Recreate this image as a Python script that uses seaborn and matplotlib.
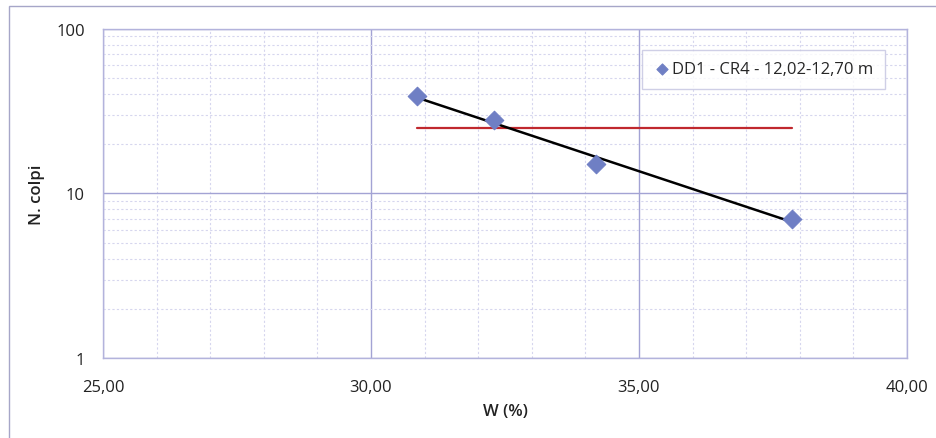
import numpy as np
import pandas as pd
import matplotlib.pyplot as plt
import matplotlib.ticker as mticker
from matplotlib.patches import Rectangle
import seaborn as sns

# --- Data ---
w_pct = [30.85, 32.30, 34.20, 37.85]
n_colpi = [39, 28, 15, 7]
n_ref = 25
series_label = 'DD1 - CR4 - 12,02-12,70 m'
x_ticks = [25, 30, 35, 40]
y_ticks = [1, 10, 100]

df = pd.DataFrame({'W': w_pct, 'N': n_colpi})

# exponential trendline (fit of log N against W)
k, c = np.polyfit(df['W'], np.log(df['N']), 1)
trend = pd.DataFrame({'W': np.linspace(min(w_pct), max(w_pct), 50)})
trend['N'] = np.exp(c + k * trend['W'])
ref = pd.DataFrame({'W': [min(w_pct), max(w_pct)], 'N': [n_ref, n_ref]})

sns.set_theme(style='white')
plt.rcParams['font.family'] = ['Open Sans', 'DejaVu Sans']

fig = plt.figure(figsize=(9.36, 4.39), dpi=100)
ax = fig.add_axes([0.110, 0.182, 0.859, 0.750])

# outer chart border
fig.patches.append(Rectangle((9 / 936, -0.05), 0.995, 1 - 7 / 439 + 0.05,
                             transform=fig.transFigure, fill=False,
                             edgecolor='#a6a6c8', linewidth=1.0))

sns.lineplot(data=ref, x='W', y='N', ax=ax, color='#c0282e', linewidth=1.6)
sns.lineplot(data=trend, x='W', y='N', ax=ax, color='black', linewidth=1.8)
sns.scatterplot(data=df, x='W', y='N', ax=ax, marker='D', s=90,
                color='#6f7fc4', edgecolor='#6f7fc4', label=series_label, zorder=5)

ax.set_yscale('log')
ax.set_xlim(25, 40)
ax.set_ylim(1, 100)
ax.set_xticks(x_ticks)
ax.set_xticklabels([f'{v:.2f}'.replace('.', ',') for v in x_ticks])
ax.set_yticks(y_ticks)
ax.set_yticklabels([str(v) for v in y_ticks])
ax.xaxis.set_minor_locator(mticker.MultipleLocator(1))
ax.yaxis.set_minor_locator(mticker.LogLocator(base=10, subs=np.arange(2, 10)))
ax.yaxis.set_minor_formatter(mticker.NullFormatter())

ax.grid(which='major', color='#a3a3d4', linewidth=1.0, linestyle='-')
ax.grid(which='minor', color='#d6d6ee', linewidth=0.8, linestyle=(0, (2, 2)))
ax.set_axisbelow(True)
ax.tick_params(which='both', length=0, labelsize=12, colors='#222222', pad=13)
ax.tick_params(axis='x', pad=15)
for sp in ax.spines.values():
    sp.set_color('#b3b3dc')
    sp.set_linewidth(1.0)

ax.set_xlabel('W (%)', fontsize=12, fontweight='semibold', color='#222222', labelpad=6)
ax.set_ylabel('N. colpi', fontsize=12, fontweight='semibold', color='#222222', labelpad=8)

leg = ax.legend(loc='upper right', bbox_to_anchor=(0.983, 0.962), frameon=True,
                fontsize=12, handletextpad=0.1, handlelength=1.0,
                markerscale=0.6, borderpad=0.7, fancybox=False)
leg.get_frame().set_edgecolor('#c4c4e0')
leg.get_frame().set_linewidth(1.0)

fig.savefig('out.png', dpi=100)
